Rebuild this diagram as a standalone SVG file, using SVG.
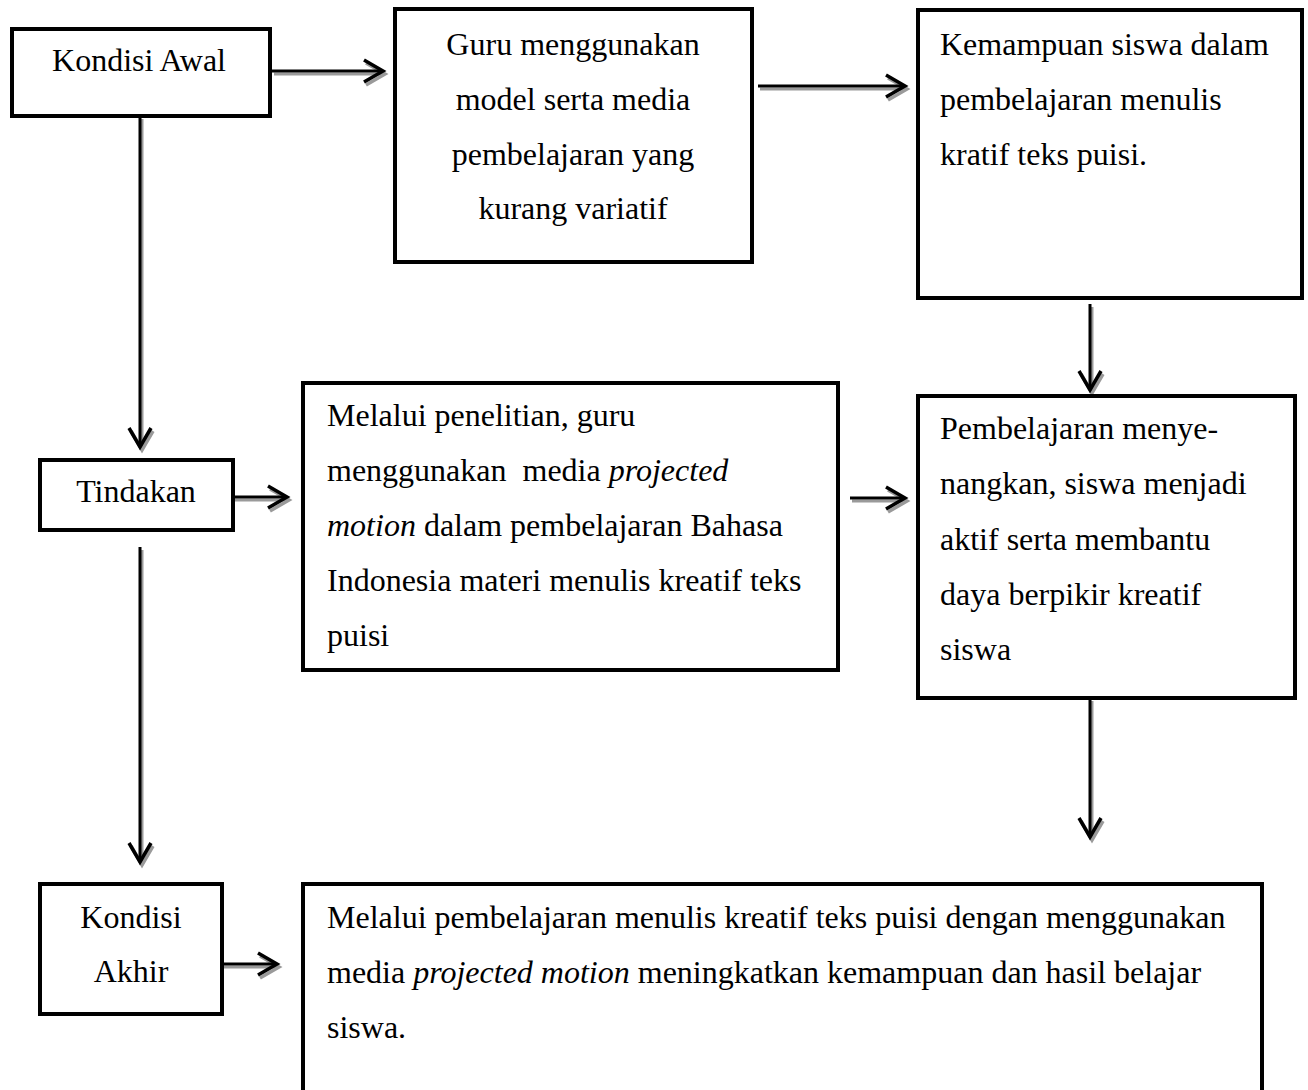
<svg xmlns="http://www.w3.org/2000/svg" width="1308" height="1090" viewBox="0 0 1308 1090">
<style>
  .box { fill: #ffffff; stroke: #000000; stroke-width: 4; }
  .t { font-family: "Liberation Serif", "Times New Roman", serif; font-size: 32px; fill: #000000; }
  .c { text-anchor: middle; }
  .i { font-style: italic; }
  .ln { fill: none; stroke: #000000; stroke-width: 3; marker-end: url(#ah); }
  .sh { fill: none; stroke: #9a9a9a; stroke-width: 3; marker-end: url(#ahs); }
</style>
<defs>
  <marker id="ah" markerUnits="userSpaceOnUse" markerWidth="40" markerHeight="40" viewBox="-30 -20 40 40" refX="0" refY="0" orient="auto" overflow="visible">
    <path d="M-19,-11 L0,0 L-19,11" fill="none" stroke="#000000" stroke-width="3.5"/>
  </marker>
  <marker id="ahs" markerUnits="userSpaceOnUse" markerWidth="40" markerHeight="40" viewBox="-30 -20 40 40" refX="0" refY="0" orient="auto" overflow="visible">
    <path d="M-19,-11 L0,0 L-19,11" fill="none" stroke="#9a9a9a" stroke-width="3.5"/>
  </marker>
  <path id="p1" d="M272,71 H383"/>
  <path id="p2" d="M758,86 H905"/>
  <path id="p3" d="M1090,304 V390"/>
  <path id="p4" d="M140,116 V447"/>
  <path id="p5" d="M233,497 H287"/>
  <path id="p6" d="M140,547 V862"/>
  <path id="p7" d="M850,498 H905"/>
  <path id="p8" d="M1090,698 V837"/>
  <path id="p9" d="M222,964 H277"/>
</defs>
<rect width="1308" height="1090" fill="#ffffff"/>

<g id="connectors">
  <g transform="translate(2,3)">
    <use href="#p1" class="sh"/><use href="#p2" class="sh"/><use href="#p3" class="sh"/>
    <use href="#p4" class="sh"/><use href="#p5" class="sh"/><use href="#p6" class="sh"/>
    <use href="#p7" class="sh"/><use href="#p8" class="sh"/><use href="#p9" class="sh"/>
  </g>
  <use href="#p1" class="ln"/><use href="#p2" class="ln"/><use href="#p3" class="ln"/>
  <use href="#p4" class="ln"/><use href="#p5" class="ln"/><use href="#p6" class="ln"/>
  <use href="#p7" class="ln"/><use href="#p8" class="ln"/><use href="#p9" class="ln"/>
</g>

<g id="kondisi-awal">
  <rect class="box" x="12" y="29" width="258" height="87"/>
  <text class="t c" x="139" y="71">Kondisi Awal</text>
</g>

<g id="guru">
  <rect class="box" x="395" y="9" width="357" height="253"/>
  <text class="t c" x="573" y="55">Guru menggunakan</text>
  <text class="t c" x="573" y="110">model serta media</text>
  <text class="t c" x="573" y="165">pembelajaran yang</text>
  <text class="t c" x="573" y="219">kurang variatif</text>
</g>

<g id="kemampuan">
  <rect class="box" x="918" y="10" width="384" height="288"/>
  <text class="t" x="940" y="55">Kemampuan siswa dalam</text>
  <text class="t" x="940" y="110">pembelajaran menulis</text>
  <text class="t" x="940" y="165">kratif teks puisi.</text>
</g>

<g id="tindakan">
  <rect class="box" x="40" y="460" width="193" height="70"/>
  <text class="t c" x="136" y="502">Tindakan</text>
</g>

<g id="melalui-penelitian">
  <rect class="box" x="303" y="383" width="535" height="287"/>
  <text class="t" x="327" y="426">Melalui penelitian, guru</text>
  <text class="t" x="327" y="481" xml:space="preserve">menggunakan  media <tspan class="i">projected</tspan></text>
  <text class="t" x="327" y="536"><tspan class="i">motion</tspan> dalam pembelajaran Bahasa</text>
  <text class="t" x="327" y="591">Indonesia materi menulis kreatif teks</text>
  <text class="t" x="327" y="646">puisi</text>
</g>

<g id="pembelajaran">
  <rect class="box" x="918" y="396" width="377" height="302"/>
  <text class="t" x="940" y="439">Pembelajaran menye-</text>
  <text class="t" x="940" y="494">nangkan, siswa menjadi</text>
  <text class="t" x="940" y="550">aktif serta membantu</text>
  <text class="t" x="940" y="605">daya berpikir kreatif</text>
  <text class="t" x="940" y="660">siswa</text>
</g>

<g id="kondisi-akhir">
  <rect class="box" x="40" y="884" width="182" height="130"/>
  <text class="t c" x="131" y="928">Kondisi</text>
  <text class="t c" x="131" y="982">Akhir</text>
</g>

<g id="hasil">
  <rect class="box" x="303" y="884" width="959" height="240"/>
  <text class="t" x="327" y="928">Melalui pembelajaran menulis kreatif teks puisi dengan menggunakan</text>
  <text class="t" x="327" y="983">media <tspan class="i">projected motion</tspan> meningkatkan kemampuan dan hasil belajar</text>
  <text class="t" x="327" y="1038">siswa.</text>
</g>
</svg>
